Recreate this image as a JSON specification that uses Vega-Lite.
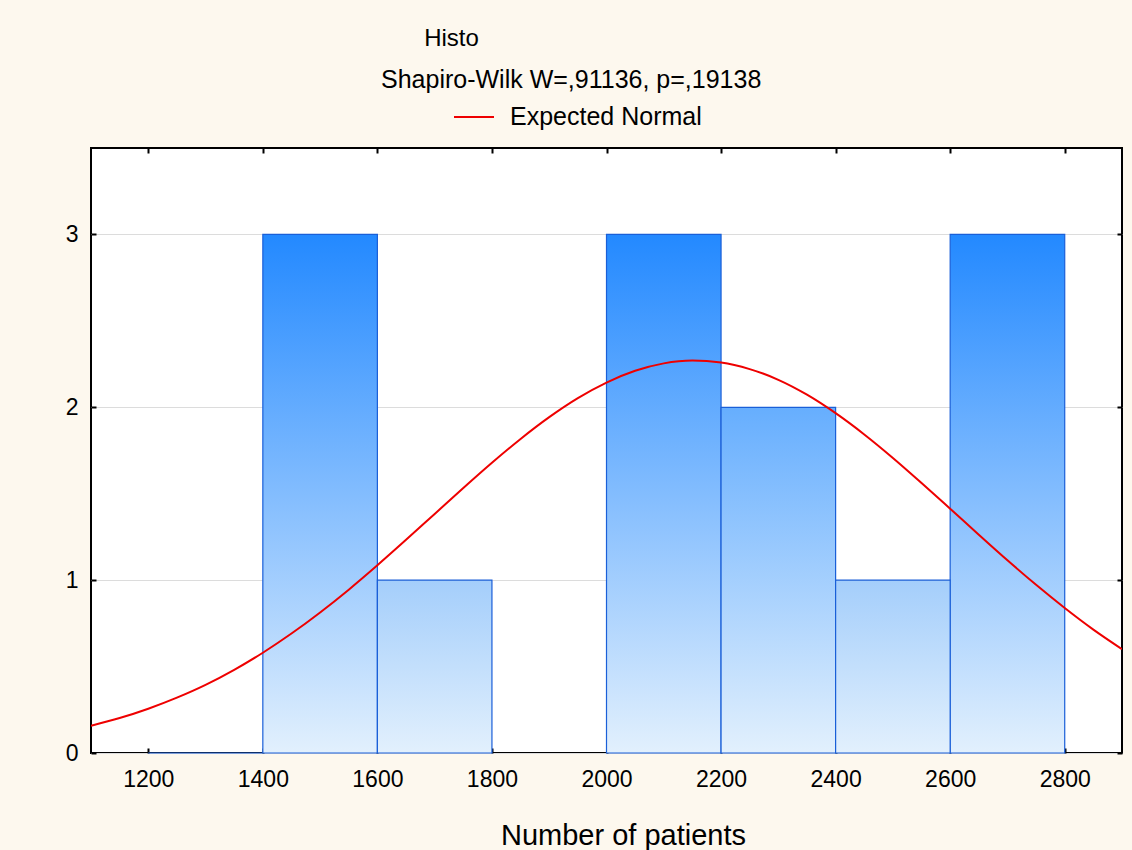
{
  "$schema": "https://vega.github.io/schema/vega-lite/v6.json",
  "width": 1031,
  "height": 605,
  "autosize": {"type": "none"},
  "padding": {"left": 91, "top": 148, "right": 10, "bottom": 97},
  "background": "#FDF8EE",
  "config": {
    "font": "Liberation Sans",
    "view": {"fill": "white", "stroke": "black", "strokeWidth": 2},
    "axis": {
      "domain": false,
      "tickColor": "black",
      "tickWidth": 2,
      "tickSize": -5,
      "labelColor": "black",
      "labelFont": "Liberation Sans",
      "labelFontSize": 23,
      "labelPadding": 18,
      "titleColor": "black",
      "titleFont": "Liberation Sans",
      "titleFontWeight": "normal",
      "gridColor": "#DCDCDC",
      "gridWidth": 1
    }
  },
  "title": {
    "text": "Histo",
    "anchor": "start",
    "dx": 359,
    "offset": 17,
    "fontSize": 24,
    "fontWeight": "normal",
    "color": "black",
    "font": "Liberation Sans"
  },
  "datasets": {
    "bins": [
      {"bin_start": 1200, "bin_end": 1400, "count": 0},
      {"bin_start": 1400, "bin_end": 1600, "count": 3},
      {"bin_start": 1600, "bin_end": 1800, "count": 1},
      {"bin_start": 1800, "bin_end": 2000, "count": 0},
      {"bin_start": 2000, "bin_end": 2200, "count": 3},
      {"bin_start": 2200, "bin_end": 2400, "count": 2},
      {"bin_start": 2400, "bin_end": 2600, "count": 1},
      {"bin_start": 2600, "bin_end": 2800, "count": 3}
    ],
    "normal": [
      {"patients": 1100, "expected": 0.158},
      {"patients": 1150, "expected": 0.202},
      {"patients": 1200, "expected": 0.256},
      {"patients": 1250, "expected": 0.320},
      {"patients": 1300, "expected": 0.394},
      {"patients": 1350, "expected": 0.481},
      {"patients": 1400, "expected": 0.580},
      {"patients": 1450, "expected": 0.691},
      {"patients": 1500, "expected": 0.813},
      {"patients": 1550, "expected": 0.945},
      {"patients": 1600, "expected": 1.086},
      {"patients": 1650, "expected": 1.233},
      {"patients": 1700, "expected": 1.383},
      {"patients": 1750, "expected": 1.533},
      {"patients": 1800, "expected": 1.679},
      {"patients": 1850, "expected": 1.817},
      {"patients": 1900, "expected": 1.943},
      {"patients": 1950, "expected": 2.053},
      {"patients": 2000, "expected": 2.143},
      {"patients": 2050, "expected": 2.211},
      {"patients": 2100, "expected": 2.254},
      {"patients": 2150, "expected": 2.270},
      {"patients": 2200, "expected": 2.259},
      {"patients": 2250, "expected": 2.221},
      {"patients": 2300, "expected": 2.159},
      {"patients": 2350, "expected": 2.073},
      {"patients": 2400, "expected": 1.966},
      {"patients": 2450, "expected": 1.843},
      {"patients": 2500, "expected": 1.707},
      {"patients": 2550, "expected": 1.562},
      {"patients": 2600, "expected": 1.413},
      {"patients": 2650, "expected": 1.263},
      {"patients": 2700, "expected": 1.115},
      {"patients": 2750, "expected": 0.973},
      {"patients": 2800, "expected": 0.839},
      {"patients": 2850, "expected": 0.714},
      {"patients": 2900, "expected": 0.601}
    ]
  },
  "resolve": {"axis": {"x": "independent", "y": "independent"}},
  "layer": [
    {
      "data": {"name": "bins"},
      "transform": [{"filter": "datum.count == 3"}],
      "mark": {
        "type": "rect",
        "stroke": "#1A5FD8",
        "strokeWidth": 1.2,
        "fill": {
          "gradient": "linear", "x1": 0, "y1": 0, "x2": 0, "y2": 1,
          "stops": [{"offset": 0, "color": "#2389FF"}, {"offset": 1, "color": "#E2F0FD"}]
        }
      },
      "encoding": {
        "x": {
          "field": "bin_start", "type": "quantitative",
          "scale": {"domain": [1100, 2900], "nice": false, "zero": false},
          "axis": {
            "orient": "bottom",
            "values": [1200, 1400, 1600, 1800, 2000, 2200, 2400, 2600, 2800],
            "format": "d",
            "grid": false,
            "labelFontSize": 23,
            "labelPadding": 20,
            "title": "Number of patients",
            "titleFontSize": 29,
            "titlePadding": 30,
            "titleX": 532,
            "titleAlign": "center"
          }
        },
        "x2": {"field": "bin_end"},
        "y": {
          "field": "count", "type": "quantitative",
          "scale": {"domain": [0, 3.5], "nice": false},
          "axis": {
            "orient": "left",
            "values": [0, 1, 2, 3],
            "format": "d",
            "grid": true,
            "labelFontSize": 23,
            "labelPadding": 18,
            "title": null
          }
        },
        "y2": {"datum": 0}
      }
    },
    {
      "data": {"name": "bins"},
      "transform": [{"filter": "datum.count == 2"}],
      "mark": {
        "type": "rect",
        "stroke": "#1A5FD8",
        "strokeWidth": 1.2,
        "fill": {
          "gradient": "linear", "x1": 0, "y1": 0, "x2": 0, "y2": 1,
          "stops": [{"offset": 0, "color": "#66AEFE"}, {"offset": 1, "color": "#E2F0FD"}]
        }
      },
      "encoding": {
        "x": {"field": "bin_start", "type": "quantitative", "axis": null},
        "x2": {"field": "bin_end"},
        "y": {"field": "count", "type": "quantitative", "axis": null},
        "y2": {"datum": 0}
      }
    },
    {
      "data": {"name": "bins"},
      "transform": [{"filter": "datum.count == 1"}],
      "mark": {
        "type": "rect",
        "stroke": "#1A5FD8",
        "strokeWidth": 1.2,
        "fill": {
          "gradient": "linear", "x1": 0, "y1": 0, "x2": 0, "y2": 1,
          "stops": [{"offset": 0, "color": "#A4CEFB"}, {"offset": 1, "color": "#E2F0FD"}]
        }
      },
      "encoding": {
        "x": {"field": "bin_start", "type": "quantitative", "axis": null},
        "x2": {"field": "bin_end"},
        "y": {"field": "count", "type": "quantitative", "axis": null},
        "y2": {"datum": 0}
      }
    },
    {
      "data": {"name": "bins"},
      "transform": [{"filter": "datum.count == 0 && datum.bin_start < 1400"}],
      "mark": {"type": "rect", "stroke": "#1A5FD8", "strokeWidth": 1.2, "fill": null},
      "encoding": {
        "x": {"field": "bin_start", "type": "quantitative", "axis": null},
        "x2": {"field": "bin_end"},
        "y": {"field": "count", "type": "quantitative", "axis": null},
        "y2": {"datum": 0}
      }
    },
    {
      "data": {"name": "normal"},
      "mark": {"type": "line", "strokeWidth": 2, "clip": true, "interpolate": "monotone"},
      "encoding": {
        "x": {
          "field": "patients", "type": "quantitative",
          "axis": {
            "orient": "top",
            "values": [1200, 1400, 1600, 1800, 2000, 2200, 2400, 2600, 2800],
            "labels": false, "grid": false, "title": null
          }
        },
        "y": {
          "field": "expected", "type": "quantitative",
          "axis": {
            "orient": "right",
            "values": [0, 1, 2, 3],
            "labels": false, "grid": false, "title": null
          }
        },
        "stroke": {
          "datum": "Expected Normal",
          "type": "nominal",
          "scale": {"range": ["#EE0000"]},
          "legend": {
            "orient": "none",
            "legendX": 290,
            "legendY": -80,
            "title": "Shapiro-Wilk W=,91136, p=,19138",
            "titleFontSize": 25,
            "titleFontWeight": "normal",
            "titleColor": "black",
            "titleFont": "Liberation Sans",
            "titleLimit": 700,
            "titlePadding": 3,
            "labelFontSize": 25,
            "labelColor": "black",
            "labelFont": "Liberation Sans",
            "labelLimit": 400,
            "labelOffset": 15,
            "symbolType": "stroke",
            "symbolSize": 1600,
            "symbolStrokeWidth": 2,
            "symbolOffset": 72,
            "padding": 0
          }
        }
      }
    }
  ]
}
